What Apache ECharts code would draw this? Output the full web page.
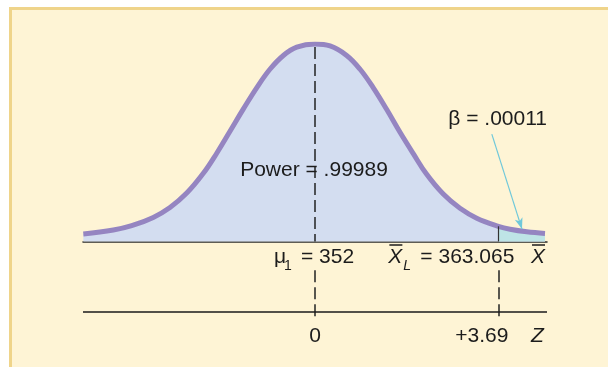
<!DOCTYPE html>
<html>
<head>
<meta charset="utf-8">
<script src="https://cdn.jsdelivr.net/npm/echarts@6/dist/echarts.min.js"></script>
<style>
  html, body { margin: 0; padding: 0; background: #ffffff; }
  #main { width: 608px; height: 367px; }
</style>
</head>
<body>
<div id="main"></div>
<script>
// curve: x on the X-bar scale, height relative to the peak
const xBar = [338.02, 339.83, 340.94, 342.24, 343.25, 344.26, 345.26, 346.07, 346.87, 347.67, 348.48, 349.28, 350.09, 350.9, 352.0,
  352.91, 353.91, 354.72, 355.52, 356.33, 357.13, 357.93, 358.74, 359.74, 360.75, 361.76, 363.065, 363.77, 364.78, 365.88];
const height = [0.038, 0.058, 0.08, 0.122, 0.172, 0.245, 0.345, 0.447, 0.558, 0.67, 0.778, 0.872, 0.942, 0.984, 1.0,
  0.99, 0.942, 0.872, 0.778, 0.668, 0.553, 0.445, 0.34, 0.24, 0.168, 0.118, 0.077, 0.062, 0.049, 0.041];
// beta tail (right of the critical value)
const betaX = [363.065, 363.77, 364.78, 365.88];
const betaH = [0.077, 0.062, 0.049, 0.041];

const mu1 = 352;
const xL = 363.065;
const zCrit = '+3.69';
const powerText = 'Power = .99989';
const betaText = '\u03b2 = .00011';

const chart = echarts.init(document.getElementById('main'), null, { renderer: 'canvas' });

const font = "'Liberation Sans', Arial, sans-serif";
const ink = '#1c1c1c';
const zLine = -0.354;   // level of the Z axis
const dashTop = -0.145, dashBottom = -0.392;

function pairs(xs, ys) {
  return xs.map(function (x, i) { return [x, ys[i]]; });
}

const option = {
  backgroundColor: '#ffffff',
  animation: false,
  grid: { left: 83, right: 61, top: 44, bottom: 46.5 },
  xAxis: {
    type: 'value', min: 338, max: 366,
    axisLine: { show: true, onZero: true, lineStyle: { color: '#2a2a2a', width: 1.5 } },
    axisTick: { show: false }, axisLabel: { show: false }, splitLine: { show: false }
  },
  yAxis: {
    type: 'value', min: -0.4, max: 1,
    axisLine: { show: false }, axisTick: { show: false }, axisLabel: { show: false }, splitLine: { show: false }
  },
  series: [
    {
      name: 'power', type: 'line', smooth: 0.4, showSymbol: false, silent: true,
      data: pairs(xBar, height),
      lineStyle: { width: 0, opacity: 0 },
      areaStyle: { color: '#d3ddf0', opacity: 1 }
    },
    {
      name: 'beta', type: 'line', smooth: 0.4, showSymbol: false, silent: true,
      data: pairs(betaX, betaH),
      lineStyle: { width: 0, opacity: 0 },
      areaStyle: { color: '#bee4e6', opacity: 1 }
    },
    {
      name: 'curve', type: 'line', smooth: 0.4, showSymbol: false, silent: true,
      data: pairs(xBar, height),
      lineStyle: { color: '#9585c1', width: 5 },
      markLine: {
        silent: true, symbol: ['none', 'none'], label: { show: false },
        lineStyle: { color: '#222', width: 1.5, type: [12, 5] },
        data: [
          [{ coord: [mu1, 0.985] }, { coord: [mu1, 0] }],
          [{ coord: [mu1, dashTop] }, { coord: [mu1, dashBottom] }],
          [{ coord: [xL, dashTop] }, { coord: [xL, dashBottom] }],
          [{ coord: [xL, 0], lineStyle: { type: 'solid', width: 1.2, color: '#333' } }, { coord: [xL, 0.077] }],
          [{ coord: [338, zLine], lineStyle: { type: 'solid', width: 1.5, color: '#1a1a1a' } }, { coord: [366, zLine] }],
          [{ coord: [362.67, 0.544], lineStyle: { type: 'solid', width: 1.2, color: '#70c8da' } },
           { coord: [364.49, 0.063], symbol: 'arrow', symbolSize: [6, 11] }]
        ]
      }
    }
  ]
};
chart.setOption(option);

function px(x, y) { return chart.convertToPixel({ gridIndex: 0 }, [x, y]); }
const m = px(mu1, 0), c = px(xL, 0), r = px(366, 0);

function txt(x, y, s, opt) {
  opt = opt || {};
  return {
    type: 'text', x: x, y: y, z: 10, silent: true,
    style: {
      text: s, fill: ink, fontFamily: font, fontSize: opt.size || 21,
      fontStyle: opt.italic ? 'italic' : 'normal',
      align: opt.align || 'left', verticalAlign: 'middle'
    }
  };
}
function overline(x1, x2, y) {
  return { type: 'line', z: 10, silent: true, shape: { x1: x1, y1: y, x2: x2, y2: y }, style: { stroke: ink, lineWidth: 1.5 } };
}

chart.setOption({
  graphic: [
    { type: 'rect', z: -10, silent: true, shape: { x: 10.5, y: 8.5, width: 640, height: 420 },
      style: { fill: '#fef4d5', stroke: '#efd48a', lineWidth: 3 } },
    txt(m[0] - 1, 170, powerText, { align: 'center' }),
    txt(r[0], 119, betaText, { align: 'right' }),
    txt(m[0] - 41, 257.5, '\u03bc'),
    txt(m[0] - 31, 266.5, '1', { size: 14 }),
    txt(m[0] - 14, 257.5, '= 352'),
    txt(c[0] - 110, 257.5, 'X', { italic: true }),
    overline(c[0] - 109, c[0] - 96, 245),
    txt(c[0] - 95, 266.5, 'L', { italic: true, size: 14 }),
    txt(c[0] - 78, 257.5, '= 363.065'),
    txt(r[0] - 16, 257.5, 'X', { italic: true }),
    overline(r[0] - 15, r[0] - 2, 245),
    txt(m[0], 336, '0', { align: 'center' }),
    txt(c[0] + 10, 336, zCrit, { align: 'right' }),
    txt(r[0] - 16, 336, 'Z', { italic: true })
  ]
});
</script>
</body>
</html>
